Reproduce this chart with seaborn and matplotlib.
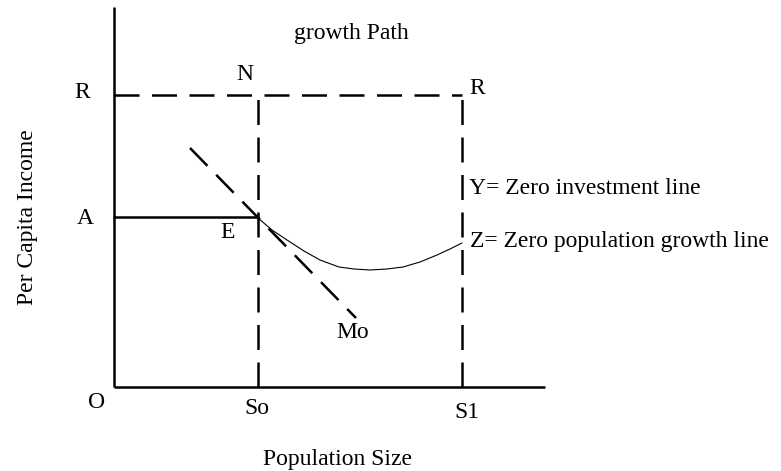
import pandas as pd
import seaborn as sns
import matplotlib.pyplot as plt

# key levels (diagram units)
so_x = 14.4
s1_x = 34.8
r_level = 29.2
a_level = 17.0
y_axis_top = 38.0
x_axis_end = 43.1

# Mo line end points
mo_x = [7.6, 24.2]
mo_y = [23.9, 6.9]

# zero population growth curve Z
z_x = [14.4, 15.8, 17.3, 19.0, 20.6, 22.5, 24.0, 25.6, 27.3, 28.9, 30.6, 32.3, 33.6, 34.8]
z_y = [16.9, 15.7, 14.7, 13.6, 12.7, 12.0, 11.8, 11.7, 11.8, 12.0, 12.5, 13.2, 13.8, 14.4]

sns.set_style("white")
plt.rcParams['font.family'] = ['Liberation Serif', 'DejaVu Serif']
plt.rcParams['text.color'] = 'black'

fig = plt.figure(figsize=(7.81, 4.71), dpi=100)
ax = fig.add_axes([0, 0, 1, 1])
ax.set_xlim(-11.4, 66.7)
ax.set_ylim(-8.4, 38.7)
ax.axis('off')

dash = (10, 5)
lw = 1.8

# axes of the diagram
ax.plot([0, 0], [0, y_axis_top], color='black', lw=lw, solid_capstyle='butt')
ax.plot([0, x_axis_end], [0, 0], color='black', lw=lw, solid_capstyle='butt')

# dashed box
ax.plot([0, s1_x], [r_level, r_level], color='black', lw=lw, dashes=dash)
ax.plot([so_x, so_x], [0, r_level], color='black', lw=lw, dashes=dash)
ax.plot([s1_x, s1_x], [0, r_level], color='black', lw=lw, dashes=dash)

# A line
ax.plot([0, so_x], [a_level, a_level], color='black', lw=lw)

# Mo line
df_mo = pd.DataFrame({"x": mo_x, "y": mo_y})
sns.lineplot(data=df_mo, x="x", y="y", ax=ax, color='black', lw=lw)
ax.lines[-1].set_dashes(dash)

# Z curve
df_z = pd.DataFrame({"x": z_x, "y": z_y})
sns.lineplot(data=df_z, x="x", y="y", ax=ax, color='black', lw=0.8, sort=False)

fs = 17
ax.text(23.7, 35.4, "growth Path", fontsize=fs, ha='center', va='center')
ax.text(13.1, 31.2, "N", fontsize=fs, ha='center', va='center')
ax.text(-3.2, 29.5, "R", fontsize=fs, ha='center', va='center')
ax.text(36.3, 29.9, "R", fontsize=fs, ha='center', va='center')
ax.text(35.5, 19.9, "Y= Zero investment line", fontsize=fs, ha='left', va='center')
ax.text(35.6, 14.6, "Z= Zero population growth line", fontsize=fs, ha='left', va='center')
ax.text(-2.9, 16.9, "A", fontsize=fs, ha='center', va='center')
ax.text(11.4, 15.4, "E", fontsize=fs, ha='center', va='center')
ax.text(23.9, 5.4, "Mo", fontsize=fs, ha='center', va='center')
ax.text(-1.7, -1.5, "O", fontsize=fs, ha='center', va='center')
ax.text(14.3, -2.2, "So", fontsize=fs, ha='center', va='center')
ax.text(35.3, -2.5, "S1", fontsize=fs, ha='center', va='center')
ax.text(22.4, -7.3, "Population Size", fontsize=fs, ha='center', va='center')
ax.text(-8.7, 17.0, "Per Capita Income", fontsize=fs, ha='center', va='center', rotation=90)

fig.savefig("out.png", dpi=100)
